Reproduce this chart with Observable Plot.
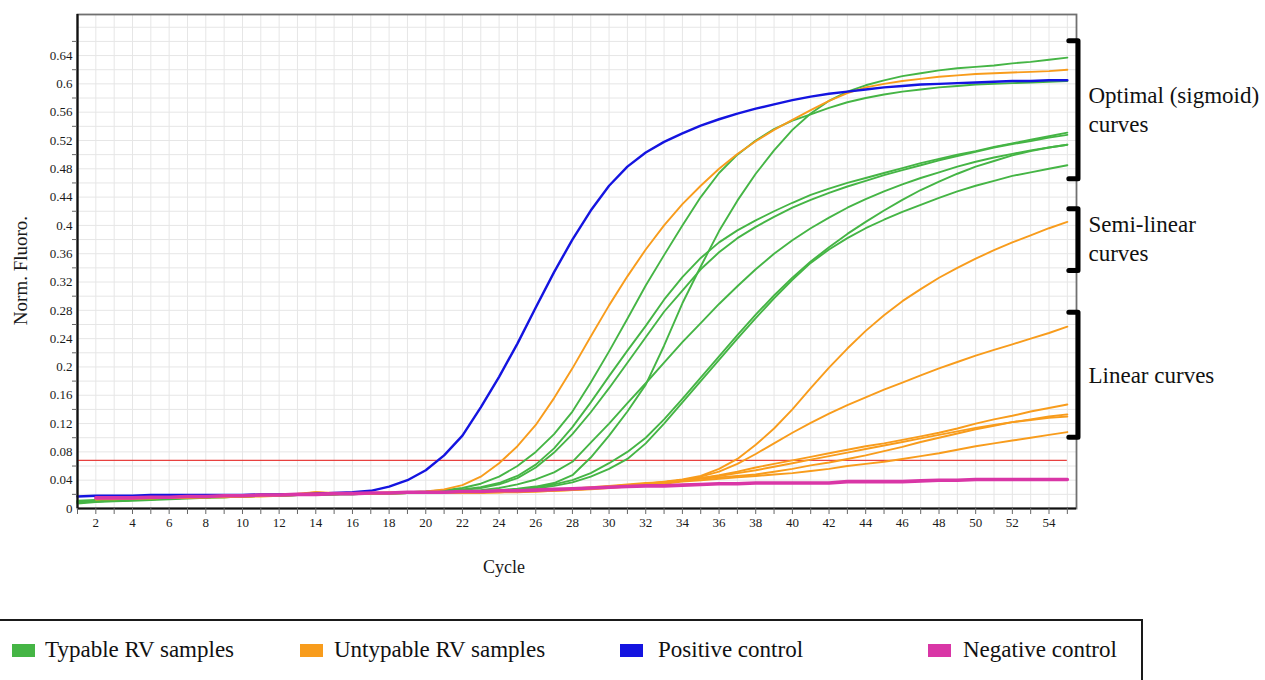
<!DOCTYPE html>
<html>
<head>
<meta charset="utf-8">
<script src="https://cdn.jsdelivr.net/npm/d3@7"></script>
<script src="https://cdn.jsdelivr.net/npm/@observablehq/plot@0.6"></script>
<style>
  body { margin: 0; background: #fff; font-family: "Liberation Serif", "Times New Roman", serif; }
  #wrap { position: relative; width: 1265px; height: 680px; overflow: hidden; }
  #chart svg { display: block; }
  #legend { position: absolute; left: -2px; top: 619px; width: 1145px; height: 100px; border: 2px solid #1a1a1a; box-sizing: border-box; }
  .item { position: absolute; top: 16px; height: 26px; line-height: 26px; display: flex; align-items: center; font-size: 23px; color: #111; white-space: nowrap; }
  .sw { width: 23px; height: 13px; }
</style>
</head>
<body>
<div id="wrap">
  <div id="chart"></div>
  <div id="legend"></div>
</div>
<script>
// ---------- data ----------
const cycles = d3.range(1, 56);
const xLabels = [2,4,6,8,10,12,14,16,18,20,22,24,26,28,30,32,34,36,38,40,42,44,46,48,50,52,54];
const yLabels = [0,0.04,0.08,0.12,0.16,0.2,0.24,0.28,0.32,0.36,0.4,0.44,0.48,0.52,0.56,0.6,0.64];
const yMinor = [0.02,0.06,0.1,0.14,0.18,0.22,0.26,0.3,0.34,0.38,0.42,0.46,0.5,0.54,0.58,0.62,0.66];
const yGrid = [0.02,0.04,0.06,0.08,0.1,0.12,0.14,0.16,0.18,0.2,0.22,0.24,0.26,0.28,0.3,0.32,0.34,0.36,0.38,0.4,0.42,0.44,0.46,0.48,0.5,0.52,0.54,0.56,0.58,0.6,0.62,0.64,0.66,0.68];
const xDomain = [1, 55.5];
const yDomain = [0, 0.698];
const threshold = 0.068;

const groups = ["Typable RV samples", "Untypable RV samples", "Positive control", "Negative control"];
const groupColors = ["#45b545", "#f89c1c", "#1414e0", "#d936a6"];

// Typable RV samples (green)
const typable1 = [0.008,0.010,0.011,0.012,0.013,0.014,0.015,0.016,0.017,0.018,0.018,0.019,0.019,0.020,0.020,0.021,0.021,0.022,0.023,0.024,
0.026,0.029,0.035,0.045,0.060,0.080,0.105,0.137,0.178,0.222,
0.268,0.315,0.358,0.400,0.440,0.474,0.500,0.520,0.536,0.548,
0.557,0.566,0.574,0.580,0.585,0.589,0.592,0.595,0.597,0.599,
0.600,0.601,0.602,0.603,0.604];
const typable2 = [0.010,0.011,0.012,0.013,0.014,0.015,0.016,0.016,0.017,0.018,0.018,0.019,0.019,0.020,0.020,0.021,0.021,0.022,0.022,0.023,
0.023,0.024,0.025,0.026,0.028,0.031,0.036,0.047,0.072,0.103,
0.137,0.175,0.230,0.290,0.342,0.392,0.435,0.473,0.506,0.535,
0.558,0.576,0.589,0.598,0.605,0.611,0.615,0.619,0.622,0.624,
0.626,0.629,0.631,0.634,0.637];
const typable3 = [0.009,0.010,0.011,0.012,0.013,0.014,0.015,0.016,0.017,0.017,0.018,0.019,0.019,0.020,0.020,0.021,0.021,0.022,0.022,0.023,
0.025,0.027,0.030,0.036,0.046,0.062,0.085,0.115,0.150,0.187,
0.223,0.258,0.295,0.327,0.354,0.376,0.393,0.407,0.420,0.432,
0.443,0.452,0.460,0.467,0.474,0.481,0.488,0.494,0.500,0.505,
0.511,0.516,0.521,0.526,0.531];
const typable4 = [0.007,0.009,0.010,0.011,0.012,0.013,0.014,0.015,0.016,0.017,0.018,0.018,0.019,0.019,0.020,0.020,0.021,0.021,0.022,0.022,
0.024,0.026,0.029,0.034,0.043,0.058,0.079,0.105,0.136,0.170,
0.206,0.242,0.278,0.308,0.338,0.362,0.382,0.398,0.412,0.425,
0.436,0.446,0.455,0.463,0.471,0.478,0.485,0.492,0.498,0.504,
0.510,0.515,0.519,0.524,0.528];
const typable5 = [0.011,0.012,0.013,0.014,0.015,0.016,0.016,0.017,0.018,0.018,0.019,0.019,0.020,0.020,0.021,0.021,0.022,0.022,0.022,0.023,
0.023,0.024,0.026,0.029,0.034,0.041,0.051,0.066,0.093,0.120,
0.149,0.177,0.206,0.235,0.262,0.289,0.314,0.338,0.360,0.379,
0.396,0.411,0.425,0.437,0.448,0.458,0.467,0.475,0.483,0.490,
0.496,0.501,0.506,0.510,0.514];
const typable6 = [0.010,0.011,0.012,0.013,0.014,0.015,0.015,0.016,0.017,0.017,0.018,0.018,0.019,0.020,0.020,0.021,0.021,0.021,0.022,0.022,
0.022,0.023,0.024,0.025,0.027,0.030,0.034,0.040,0.050,0.064,
0.080,0.100,0.126,0.155,0.185,0.215,0.245,0.274,0.301,0.326,
0.349,0.369,0.388,0.405,0.421,0.436,0.450,0.462,0.473,0.483,
0.491,0.499,0.505,0.510,0.514];
const typable7 = [0.009,0.010,0.011,0.012,0.013,0.014,0.015,0.016,0.016,0.017,0.018,0.018,0.019,0.019,0.020,0.020,0.021,0.021,0.022,0.022,
0.022,0.023,0.023,0.024,0.026,0.028,0.032,0.037,0.045,0.056,
0.070,0.092,0.120,0.150,0.180,0.210,0.240,0.269,0.297,0.323,
0.347,0.366,0.382,0.396,0.408,0.419,0.429,0.439,0.448,0.456,
0.463,0.470,0.475,0.480,0.485];

// Untypable RV samples (orange)
const untypable1 = [null,0.015,0.015,0.016,0.016,0.017,0.017,0.017,0.018,0.018,0.019,0.020,0.021,0.023,0.022,0.022,0.022,0.023,0.023,0.024,
0.027,0.033,0.045,0.064,0.088,0.118,0.156,0.198,0.243,0.287,
0.328,0.366,0.400,0.430,0.456,0.480,0.501,0.519,0.535,0.549,
0.563,0.576,0.587,0.595,0.600,0.604,0.607,0.610,0.612,0.614,
0.615,0.616,0.617,0.618,0.620];
const untypable2 = [null,0.014,0.014,0.015,0.015,0.016,0.016,0.017,0.017,0.018,0.018,0.019,0.020,0.022,0.021,0.021,0.022,0.022,0.022,0.022,
0.022,0.023,0.023,0.024,0.024,0.025,0.026,0.027,0.029,0.031,
0.033,0.035,0.038,0.041,0.046,0.056,0.070,0.090,0.113,0.140,
0.170,0.199,0.226,0.251,0.273,0.293,0.310,0.326,0.340,0.353,
0.365,0.376,0.386,0.396,0.405];
const untypable3 = [null,0.013,0.014,0.014,0.015,0.015,0.016,0.016,0.017,0.017,0.018,0.019,0.020,0.023,0.021,0.021,0.021,0.022,0.022,0.022,
0.022,0.022,0.023,0.023,0.024,0.025,0.026,0.027,0.029,0.030,
0.032,0.034,0.037,0.040,0.045,0.052,0.063,0.077,0.092,0.107,
0.121,0.134,0.146,0.157,0.168,0.178,0.188,0.198,0.207,0.216,
0.224,0.232,0.240,0.248,0.257];
const untypable4 = [null,0.014,0.015,0.015,0.016,0.016,0.017,0.017,0.018,0.018,0.019,0.019,0.020,0.022,0.021,0.021,0.022,0.022,0.022,0.023,
0.023,0.023,0.024,0.024,0.025,0.026,0.027,0.028,0.030,0.032,
0.034,0.036,0.037,0.040,0.043,0.047,0.052,0.058,0.063,0.068,
0.073,0.078,0.083,0.088,0.092,0.097,0.102,0.107,0.113,0.120,
0.126,0.131,0.137,0.142,0.147];
const untypable5 = [null,0.013,0.014,0.014,0.015,0.015,0.016,0.016,0.017,0.017,0.018,0.019,0.019,0.021,0.021,0.021,0.021,0.022,0.022,0.022,
0.022,0.022,0.023,0.023,0.024,0.024,0.025,0.026,0.028,0.030,
0.032,0.034,0.036,0.039,0.042,0.044,0.046,0.048,0.052,0.056,
0.061,0.065,0.070,0.075,0.081,0.087,0.094,0.100,0.106,0.112,
0.117,0.122,0.126,0.130,0.133];
const untypable6 = [null,0.014,0.014,0.015,0.015,0.016,0.016,0.017,0.017,0.018,0.018,0.019,0.020,0.022,0.021,0.021,0.022,0.022,0.022,0.022,
0.023,0.023,0.023,0.024,0.025,0.025,0.026,0.028,0.029,0.031,
0.033,0.035,0.037,0.040,0.043,0.046,0.050,0.054,0.059,0.064,
0.069,0.074,0.079,0.084,0.089,0.094,0.099,0.104,0.109,0.114,
0.118,0.122,0.125,0.128,0.130];
const untypable7 = [null,0.013,0.013,0.014,0.014,0.015,0.015,0.016,0.016,0.017,0.017,0.018,0.019,0.021,0.020,0.021,0.021,0.021,0.022,0.022,
0.022,0.022,0.022,0.023,0.023,0.024,0.025,0.026,0.027,0.029,
0.031,0.033,0.035,0.038,0.040,0.042,0.044,0.046,0.048,0.050,
0.053,0.056,0.060,0.063,0.066,0.070,0.074,0.078,0.083,0.088,
0.092,0.096,0.100,0.104,0.108];

// Controls
const positiveControl = [0.017,0.018,0.018,0.018,0.019,0.019,0.019,0.019,0.019,0.019,0.020,0.020,0.020,0.021,0.022,0.023,0.025,0.031,0.040,0.054,
0.075,0.103,0.143,0.186,0.233,0.284,0.334,0.380,0.421,0.456,
0.483,0.503,0.518,0.530,0.541,0.550,0.558,0.565,0.571,0.577,
0.582,0.586,0.589,0.592,0.595,0.597,0.599,0.600,0.601,0.602,
0.603,0.604,0.604,0.605,0.605];
const negativeControl = [null,0.015,0.015,0.015,0.016,0.016,0.017,0.017,0.018,0.018,0.019,0.019,0.020,0.020,0.021,0.021,0.022,0.022,0.023,0.023,
0.023,0.024,0.024,0.025,0.025,0.026,0.027,0.028,0.029,0.030,
0.031,0.032,0.032,0.033,0.034,0.035,0.035,0.036,0.036,0.036,
0.036,0.036,0.038,0.038,0.038,0.038,0.039,0.040,0.040,0.041,
0.041,0.041,0.041,0.041,0.041];

// Annotations
const annotLabels = ["Optimal (sigmoid)\ncurves", "Semi-linear\ncurves", "Linear curves"];
const annotY = [0.566, 0.383, 0.191];
const bracketTop = [0.661, 0.4235, 0.2773];
const bracketBottom = [0.4658, 0.3363, 0.1007];

// ---------- build tables ----------
const seriesList = [
  ...[typable1, typable2, typable3, typable4, typable5, typable6, typable7].map((v, i) => ({id: "T" + i, group: groups[0], values: v})),
  ...[untypable1, untypable2, untypable3, untypable4, untypable5, untypable6, untypable7].map((v, i) => ({id: "U" + i, group: groups[1], values: v})),
  {id: "P", group: groups[2], values: positiveControl},
  {id: "N", group: groups[3], values: negativeControl}
];
const rows = [];
for (const s of seriesList) {
  s.values.forEach((v, i) => { if (v != null) rows.push({cycle: cycles[i], value: v, id: s.id, group: s.group}); });
}
const byGroup = g => rows.filter(r => r.group === g);

const annotations = annotLabels.map((label, i) => ({label, y: annotY[i]}));
const bracketPts = [];
bracketTop.forEach((t, i) => {
  const b = bracketBottom[i];
  const xStub = cycles[cycles.length - 1];
  const xBar = xDomain[1];
  bracketPts.push({k: i, x: xStub, y: t}, {k: i, x: xBar, y: t}, {k: i, x: xBar, y: b}, {k: i, x: xStub, y: b});
});

const font = "'Liberation Serif', 'Times New Roman', serif";
const colorOf = g => groupColors[groups.indexOf(g)];

const chart = Plot.plot({
  width: 1265,
  height: 600,
  marginLeft: 77,
  marginRight: 189,
  marginTop: 14,
  marginBottom: 92,
  x: {domain: xDomain, axis: null},
  y: {domain: yDomain, axis: null},
  style: {fontFamily: font, background: "white", color: "#222"},
  marks: [
    Plot.ruleX(cycles, {stroke: "#e6e6e6", strokeWidth: 1}),
    Plot.ruleY(yGrid, {stroke: "#e6e6e6", strokeWidth: 1}),
    Plot.frame({stroke: "#707070", strokeWidth: 1.8}),
    Plot.ruleY([threshold], {x1: cycles[0], x2: cycles[cycles.length - 1], stroke: "#e8413f", strokeWidth: 1.2}),
    Plot.line(byGroup(groups[0]), {x: "cycle", y: "value", z: "id", stroke: colorOf(groups[0]), strokeWidth: 1.9}),
    Plot.line(byGroup(groups[1]), {x: "cycle", y: "value", z: "id", stroke: colorOf(groups[1]), strokeWidth: 1.9}),
    Plot.line(byGroup(groups[2]), {x: "cycle", y: "value", z: "id", stroke: colorOf(groups[2]), strokeWidth: 2.4}),
    Plot.line(byGroup(groups[3]), {x: "cycle", y: "value", z: "id", stroke: colorOf(groups[3]), strokeWidth: 3.6}),
    Plot.ruleX([xDomain[0]], {stroke: "#111", strokeWidth: 2.2}),
    Plot.ruleY([yDomain[0]], {stroke: "#111", strokeWidth: 2.2}),
    Plot.axisX({ticks: cycles, tickSize: 6, fill: "none", stroke: "#666", label: null}),
    Plot.axisX({ticks: xLabels, tickSize: 0, tickPadding: 9, fontSize: 13, fill: "#1a1a1a", label: null, tickFormat: d => String(d)}),
    Plot.axisY({ticks: yMinor, tickSize: 5, fill: "none", stroke: "#666", label: null}),
    Plot.axisY({ticks: yLabels, tickSize: 0, tickPadding: 5, fontSize: 13, fill: "#1a1a1a", label: null, tickFormat: d => String(+d.toFixed(2))}),
    Plot.text(["Norm. Fluoro."], {frameAnchor: "left", textAnchor: "middle", lineAnchor: "middle", rotate: -90, dx: -57, dy: 9, fontSize: 19, fill: "#1a1a1a"}),
    Plot.text(["Cycle"], {frameAnchor: "bottom", textAnchor: "middle", lineAnchor: "middle", dx: -73, dy: 59, fontSize: 18, fill: "#1a1a1a"}),
    Plot.line(bracketPts, {x: "x", y: "y", z: "k", stroke: "#000", strokeWidth: 5, strokeLinecap: "round", strokeLinejoin: "round", dx: 1.5}),
    Plot.text(annotations, {y: "y", text: "label", frameAnchor: "right", textAnchor: "start", dx: 12, fontSize: 23, lineHeight: 1.27, fill: "#111"})
  ]
});
document.getElementById("chart").appendChild(chart);

// ---------- legend ----------
const legendLeft = [12, 300, 620, 928];
const legendGap = [10, 11, 15, 12];
const legend = document.getElementById("legend");
groups.forEach((g, i) => {
  const item = document.createElement("div");
  item.className = "item";
  item.style.left = (legendLeft[i]) + "px";
  const sw = document.createElement("span");
  sw.className = "sw";
  sw.style.background = groupColors[i];
  sw.style.marginRight = legendGap[i] + "px";
  const tx = document.createElement("span");
  tx.textContent = g;
  item.appendChild(sw);
  item.appendChild(tx);
  legend.appendChild(item);
});
</script>
</body>
</html>
